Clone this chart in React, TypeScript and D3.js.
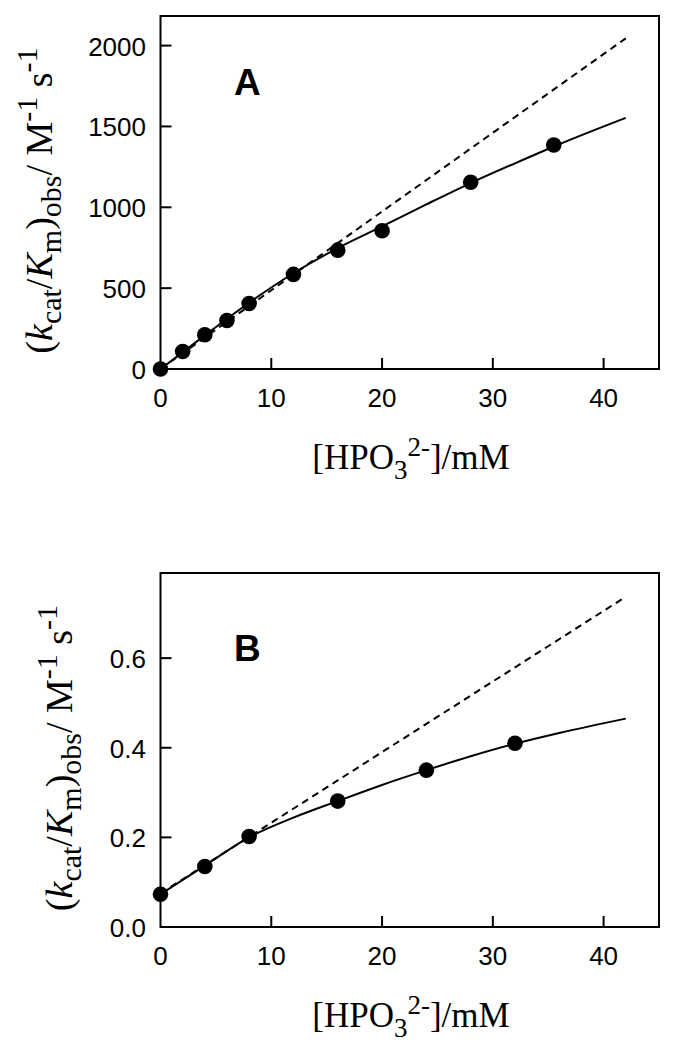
import React from "react";
import * as d3 from "d3";

const xTicks = [0, 10, 20, 30, 40];
const yTicksA = [0, 500, 1000, 1500, 2000];
const yTicksB = [0.0, 0.2, 0.4, 0.6];

const pointsAX = [0, 2, 4, 6, 8, 12, 16, 20, 28, 35.5];
const pointsAY = [0, 108, 212, 300, 405, 585, 735, 855, 1155, 1385];
const fitAX = [0, 4, 8, 12, 16, 20, 24, 28, 32, 36, 42];
const fitAY = [0, 208, 410, 592, 748, 882, 1018, 1150, 1272, 1390, 1553];
const dashAX = [0, 42];
const dashAY = [0, 2045];

const pointsBX = [0, 4, 8, 16, 24, 32];
const pointsBY = [0.073, 0.135, 0.202, 0.281, 0.35, 0.41];
const fitBX = [0, 4, 8, 12, 16, 20, 24, 28, 32, 36, 42];
const fitBY = [0.073, 0.137, 0.2, 0.244, 0.281, 0.317, 0.35, 0.381, 0.409, 0.433, 0.465];
const dashBX = [0, 42];
const dashBY = [0.075, 0.737];

const SANS = "Liberation Sans, Arial, Helvetica, sans-serif";
const SERIF = "Liberation Serif, Times New Roman, serif";

type PanelProps = {
  top: number;
  bottom: number;
  yMax: number;
  yTicks: number[];
  fmt: (v: number) => string;
  px: number[]; py: number[];
  fx: number[]; fy: number[];
  dx: number[]; dy: number[];
  letter: string;
  letterY: number;
  yLabelX: number;
};

function Panel(p: PanelProps) {
  const x = d3.scaleLinear().domain([0, 45]).range([160.5, 659]);
  const y = d3.scaleLinear().domain([0, p.yMax]).range([p.bottom, p.top]);
  const line = d3
    .line<[number, number]>()
    .x((d) => x(d[0]))
    .y((d) => y(d[1]))
    .curve(d3.curveMonotoneX);
  const fit = line(p.fx.map((v, i) => [v, p.fy[i]] as [number, number])) || "";
  const dash = d3
    .line<[number, number]>()
    .x((d) => x(d[0]))
    .y((d) => y(d[1]))(p.dx.map((v, i) => [v, p.dy[i]] as [number, number])) || "";
  const cy = (p.top + p.bottom) / 2 + 8;
  const tickLen = 11;
  return (
    <g>
      <path d={dash} fill="none" stroke="#000" strokeWidth={2} strokeDasharray="7,5" />
      <path d={fit} fill="none" stroke="#000" strokeWidth={2} />
      {p.px.map((v, i) => (
        <circle key={i} cx={x(v)} cy={y(p.py[i])} r={7.8} fill="#000" />
      ))}
      <rect x={x(0)} y={p.top} width={x(45) - x(0)} height={p.bottom - p.top} fill="none" stroke="#000" strokeWidth={2} />
      {xTicks.map((t) => (
        <g key={"x" + t}>
          {t > 0 && <line x1={x(t)} x2={x(t)} y1={p.bottom} y2={p.bottom - tickLen} stroke="#000" strokeWidth={2} />}
          <text x={x(t)} y={p.bottom + 38} textAnchor="middle" fontFamily={SANS} fontSize={26} fill="#000">
            {t}
          </text>
        </g>
      ))}
      {p.yTicks.map((t) => (
        <g key={"y" + t}>
          {t > 0 && <line x1={x(0)} x2={x(0) + tickLen} y1={y(t)} y2={y(t)} stroke="#000" strokeWidth={2} />}
          <text x={146} y={y(t) + 10} textAnchor="end" fontFamily={SANS} fontSize={26} fill="#000">
            {p.fmt(t)}
          </text>
        </g>
      ))}
      <text x={234} y={p.letterY} fontFamily={SANS} fontWeight="bold" fontSize={37} fill="#000">
        {p.letter}
      </text>
      <text
        transform={`translate(${p.yLabelX},${cy}) rotate(-90)`}
        textAnchor="middle"
        fontFamily={SERIF}
        fontSize={38}
        fill="#000"
      >
        <tspan>(</tspan>
        <tspan fontStyle="italic">k</tspan>
        <tspan fontSize={30} dy={9}>cat</tspan>
        <tspan dy={-9}>/</tspan>
        <tspan fontStyle="italic">K</tspan>
        <tspan fontSize={30} dy={9}>m</tspan>
        <tspan dy={-9}>)</tspan>
        <tspan fontSize={30} dy={9}>obs</tspan>
        <tspan dy={-9}>{"/ M"}</tspan>
        <tspan fontSize={30} dy={-15}>-1</tspan>
        <tspan dy={15}>{" s"}</tspan>
        <tspan fontSize={30} dy={-15}>-1</tspan>
      </text>
      <text x={411} y={p.bottom + 100} textAnchor="middle" fontFamily={SERIF} fontSize={35} fill="#000">
        <tspan>[HPO</tspan>
        <tspan fontSize={27} dy={10}>3</tspan>
        <tspan fontSize={27} dy={-23}>2-</tspan>
        <tspan dy={13}>]/mM</tspan>
      </text>
    </g>
  );
}

export default function App() {
  return (
    <svg
      width={686}
      height={1048}
      viewBox="0 0 686 1048"
      style={{ position: "absolute", left: 0, top: 0, background: "#fff" }}
    >
      <rect x={0} y={0} width={686} height={1048} fill="#fff" />
      <Panel
        top={16}
        bottom={369}
        yMax={2183}
        yTicks={yTicksA}
        fmt={(v) => String(v)}
        px={pointsAX}
        py={pointsAY}
        fx={fitAX}
        fy={fitAY}
        dx={dashAX}
        dy={dashAY}
        letter="A"
        letterY={95}
        yLabelX={52}
      />
      <Panel
        top={573}
        bottom={927}
        yMax={0.79}
        yTicks={yTicksB}
        fmt={d3.format(".1f")}
        px={pointsBX}
        py={pointsBY}
        fx={fitBX}
        fy={fitBY}
        dx={dashBX}
        dy={dashBY}
        letter="B"
        letterY={661}
        yLabelX={72}
      />
    </svg>
  );
}
